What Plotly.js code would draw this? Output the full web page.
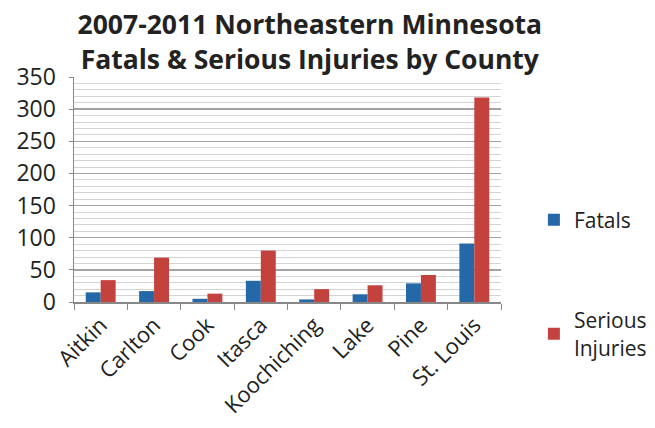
<!DOCTYPE html>
<html><head><meta charset="utf-8">
<script src="https://cdn.plot.ly/plotly-3.0.1.min.js"></script>
<style>html,body{margin:0;padding:0;background:#fff}#chart{width:655px;height:428px}</style>
</head><body><div id="chart"></div>
<script>
const counties = ["Aitkin","Carlton","Cook","Itasca","Koochiching","Lake","Pine","St. Louis"];
const fatals = [15, 17, 5, 33, 4, 12, 29, 91];
const serious = [34, 69, 13, 80, 20, 26, 42, 318];
const seriesNames = ["Fatals", "Serious<br>Injuries"];
const colors = ["#2468a8", "#c4423e"];

const font = "Open Sans, DejaVu Sans, sans-serif";
const traces = [
  {type:"bar", x:counties, y:fatals, name:seriesNames[0], legendgroup:"a", marker:{color:colors[0]}},
  {type:"bar", x:counties, y:serious, name:seriesNames[1], legendgroup:"b", marker:{color:colors[1]}}
];
const layout = {
  width:655, height:428,
  margin:{l:74, r:154, t:77, b:126, autoexpand:false},
  paper_bgcolor:"#fff", plot_bgcolor:"#fff",
  font:{family:font, color:"#222"},
  title:{text:"<b>2007-2011 Northeastern Minnesota<br>Fatals & Serious Injuries by County</b>",
         font:{family:font, size:26.5, color:"#222"}, x:0.473, xanchor:"center",
         yref:"container", y:0.92, yanchor:"middle"},
  barmode:"group", bargap:0.44, bargroupgap:0,
  xaxis:{type:"category", tickangle:-45, tickfont:{size:22, color:"#222"},
         showline:true, linecolor:"#888", linewidth:1.5, ticks:"outside", tickson:"boundaries",
         ticklen:6, tickcolor:"#888", showgrid:false},
  yaxis:{range:[0,350], dtick:50, tickfont:{size:23, color:"#222"}, ticklabelstandoff:8,
         showline:true, linecolor:"#888", linewidth:1.5, ticks:"outside", ticklen:4, tickcolor:"#888",
         gridcolor:"#a3a3a3", gridwidth:1.5, zeroline:false,
         minor:{dtick:10, showgrid:true, gridcolor:"#d4d4d4", gridwidth:1}},
  showlegend:true,
  legend:{x:1.077, xanchor:"left", y:0.455, yanchor:"top", font:{size:21, color:"#222"},
          tracegroupgap:70, itemwidth:30, bgcolor:"rgba(0,0,0,0)"}
};
Plotly.newPlot("chart", traces, layout, {displayModeBar:false, staticPlot:true});
</script></body></html>
